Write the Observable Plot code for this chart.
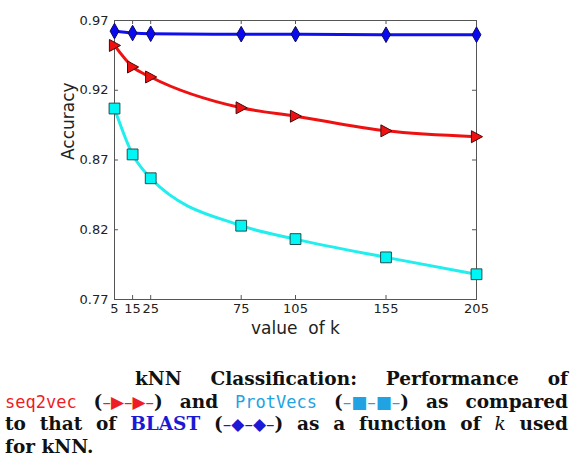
<!DOCTYPE html>
<html>
<head>
<meta charset="utf-8">
<script src="https://cdn.jsdelivr.net/npm/d3@7"></script>
<script src="https://cdn.jsdelivr.net/npm/@observablehq/plot@0.6"></script>
<style>
  html, body { margin: 0; padding: 0; background: #fff; }
  #wrap { position: relative; width: 571px; height: 456px; }
  #cap { position: absolute; left: 5px; top: 368px; width: 563px;
         font-family: "DejaVu Serif", serif; font-weight: bold; font-size: 18.5px;
         line-height: 22.7px; color: #111; }
  .l, .l4 { height: 22.7px; }
  .l { text-align: justify; text-align-last: justify; white-space: nowrap; }
  .l4 { text-align: left; }
  .tt { font-family: "DejaVu Sans Mono", monospace; font-weight: normal; font-size: 17px; }
  .red { color: #ee1c25; }
  .cy { color: #21a3e3; }
  .bl { color: #1a1ad6; }
  .g { display: inline-block; font-family: "DejaVu Sans", sans-serif; font-weight: normal;
       font-size: 17px; line-height: 0; letter-spacing: 0; }
  .k { font-style: italic; font-weight: normal; }
</style>
</head>
<body>
<div id="wrap">
  <div id="chart"></div>
  <div id="cap">
    <div class="l" style="padding-left:130px">kNN Classification: Performance of</div>
    <div class="l"><span class="tt red">seq2vec</span> (<span class="g red">–▶–▶–</span>) and <span class="tt cy">ProtVecs</span> (<span class="g cy">–■–■–</span>) as compared</div>
    <div class="l">to that of <span class="bl">BLAST</span> (<span class="g bl">–◆–◆–</span>) as a function of <span class="k">k</span> used</div>
    <div class="l4">for kNN.</div>
  </div>
</div>
<script>
const kValues = [5, 15, 25, 75, 105, 155, 205];
const blast    = [0.9624, 0.9610, 0.9605, 0.9602, 0.9602, 0.9598, 0.9598];
const seq2vec  = [0.9521, 0.9367, 0.9295, 0.9074, 0.9014, 0.8909, 0.8867];
const protvecs = [0.9069, 0.8740, 0.8569, 0.8229, 0.8133, 0.8002, 0.7881];
const yTicks = [0.77, 0.82, 0.87, 0.92, 0.97];
const xLabel = "value\u00a0 of k";
const yLabel = "Accuracy";

const rows = (vals, s) => kValues.map((k, i) => ({k, v: vals[i], s}));
const dBlast = rows(blast, "BLAST");
const dSeq = rows(seq2vec, "seq2vec");
const dProt = rows(protvecs, "ProtVecs");

const rOf = size => Math.sqrt(size / Math.PI);
const triRight = {draw(c, size) { const r = rOf(size);
  c.moveTo(-0.85 * r, -r); c.lineTo(r, 0); c.lineTo(-0.85 * r, r); c.closePath(); }};
const thinDiamond = {draw(c, size) { const r = rOf(size);
  c.moveTo(0, -1.2 * r); c.lineTo(0.68 * r, 0); c.lineTo(0, 1.2 * r); c.lineTo(-0.68 * r, 0); c.closePath(); }};
const sq = {draw(c, size) { const r = rOf(size), h = 0.9 * r;
  c.rect(-h, -h, 2 * h, 2 * h); }};

const W = 571, H = 345, mL = 114, mR = 95, mT = 20, mB = 46;
const fw = W - mL - mR, fh = H - mT - mB, tl = 4;

const chart = Plot.plot({
  width: W, height: H,
  marginLeft: mL, marginRight: mR, marginTop: mT, marginBottom: mB,
  style: {fontFamily: "DejaVu Sans", fontSize: "13px", color: "#222", background: "#fff"},
  x: {domain: [5, 205], label: null},
  y: {domain: [0.77, 0.97], label: null},
  marks: [
    Plot.frame({stroke: "#555", strokeWidth: 1}),
    Plot.ruleX(kValues, {x: d => d, insetTop: fh - tl, stroke: "#555"}),
    Plot.ruleX(kValues, {x: d => d, insetBottom: fh - tl, stroke: "#555"}),
    Plot.ruleY(yTicks, {y: d => d, insetRight: fw - tl, stroke: "#555"}),
    Plot.ruleY(yTicks, {y: d => d, insetLeft: fw - tl, stroke: "#555"}),
    Plot.axisX(kValues, {tickSize: 0, tickPadding: 4, fontSize: 13, label: null, tickFormat: d => String(d)}),
    Plot.axisY(yTicks, {tickSize: 0, tickPadding: 6, fontSize: 13, label: null, tickFormat: d3.format(".2f")}),
    Plot.text([yLabel], {frameAnchor: "left", rotate: -90, dx: -46, fontSize: 17, fill: "#222"}),
    Plot.text([xLabel], {frameAnchor: "bottom", dy: 34, fontSize: 17, fill: "#222"}),
    Plot.line(dProt, {x: "k", y: "v", stroke: "#22eeee", strokeWidth: 3, curve: "monotone-x"}),
    Plot.line(dSeq, {x: "k", y: "v", stroke: "#ee1111", strokeWidth: 3, curve: "monotone-x"}),
    Plot.line(dBlast, {x: "k", y: "v", stroke: "#1010ee", strokeWidth: 3, curve: "monotone-x"}),
    Plot.dot(dProt, {x: "k", y: "v", symbol: sq, r: 6, fill: "#00f5f5", stroke: "#1f4f4f", strokeWidth: 1}),
    Plot.dot(dSeq, {x: "k", y: "v", symbol: triRight, r: 6, fill: "#ee1111", stroke: "#4a0a0a", strokeWidth: 1}),
    Plot.dot(dBlast, {x: "k", y: "v", symbol: thinDiamond, r: 6.5, fill: "#0a0af0", stroke: "#0a0a60", strokeWidth: 1})
  ]
});
document.getElementById("chart").appendChild(chart);
</script>
</body>
</html>
